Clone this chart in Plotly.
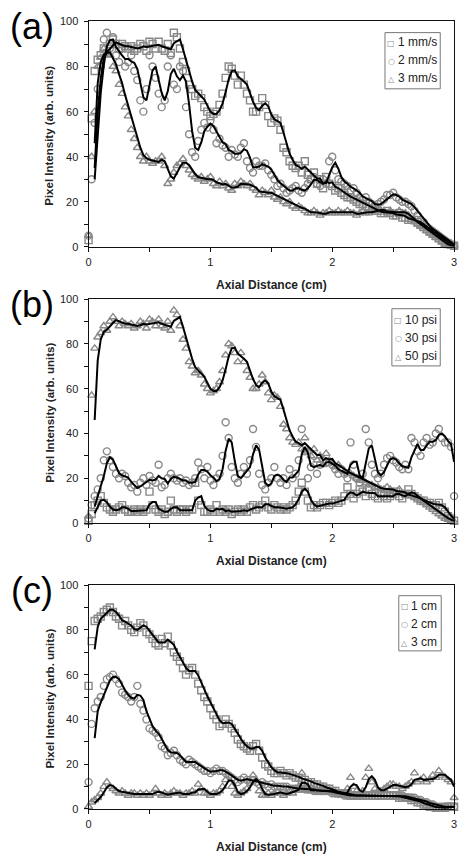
import numpy as np
import pandas as pd
import plotly.graph_objects as go

# sampling positions along the axis (cm)
X = np.round(np.arange(0, 3.0001, 0.025), 3)

# ---- panel (a): scan speed ----
a_1mm = [3, 57, 78, 83, 85, 88, 86, 90, 92, 90,
         88, 90, 89, 88, 89, 87, 88, 90, 89, 87,
         91, 90, 88, 91, 88, 87, 90, 86, 95, 93,
         88, 82, 78, 72, 70, 67, 68, 66, 62, 60,
         58, 59, 60, 63, 68, 75, 80, 79, 76, 72,
         76, 72, 68, 65, 60, 60, 62, 66, 63, 58,
         55, 57, 56, 52, 44, 42, 38, 36, 35, 36,
         33, 38, 32, 30, 33, 28, 30, 26, 31, 28,
         27, 25, 26, 24, 23, 22, 22, 21, 20, 19,
         19, 18, 17, 17, 16, 16, 15, 15, 16, 15,
         14, 14, 15, 13, 13, 12, 12, 12, 11, 10,
         9, 8, 7, 6, 5, 4, 3, 2, 1.5, 1,
         0.5]
a_2mm = [5, 30, 55, 70, 80, 92, 95, 88, 93, 85,
         82, 88, 80, 82, 85, 78, 74, 65, 60, 70,
         85, 80, 75, 68, 62, 65, 80, 85, 72, 70,
         80, 78, 62, 50, 42, 40, 47, 52, 55, 53,
         56, 52, 46, 48, 45, 44, 40, 43, 41, 40,
         44, 46, 38, 35, 33, 38, 36, 36, 37, 34,
         32, 30, 27, 28, 26, 24, 25, 26, 27, 25,
         24, 26, 28, 30, 31, 28, 27, 30, 28, 38,
         40, 34, 30, 29, 28, 27, 25, 26, 24, 22,
         21, 22, 20, 19, 18, 19, 20, 21, 23, 23,
         24, 22, 21, 20, 20, 19, 18, 16, 14, 12,
         11, 9, 8, 7, 6, 5, 4, 3, 2, 1,
         0.5]
a_3mm = [5, 40, 60, 80, 84, 88, 86, 85, 80, 78,
         72, 68, 62, 58, 52, 48, 44, 40, 38, 40,
         38, 37, 38, 38, 40, 36, 28, 30, 33, 36,
         37, 39, 36, 34, 32, 31, 30, 31, 29, 30,
         31, 28, 27, 29, 27, 28, 26, 25, 28, 27,
         29, 28, 27, 28, 26, 25, 23, 25, 24, 23,
         25, 22, 21, 22, 20, 19, 20, 18, 17, 18,
         17, 16, 15, 15, 16, 15, 14, 15, 15, 16,
         15, 15, 16, 15, 15, 16, 15, 15, 14, 15,
         16, 15, 15, 16, 16, 17, 16, 16, 15, 16,
         15, 15, 16, 15, 15, 14, 12, 11, 10, 9,
         8, 7, 6, 5, 4, 3, 2, 1, 0.5, 0.5,
         0.5]

# ---- panel (b): pressure ----
b_10psi = [1, 4, 8, 10, 12, 9, 7, 6, 5, 6,
           7, 8, 6, 5, 5, 6, 5, 6, 5, 6,
           14, 8, 6, 5, 6, 4, 5, 10, 6, 5,
           6, 6, 5, 6, 6, 18, 10, 8, 5, 5,
           6, 5, 8, 5, 6, 5, 6, 4, 5, 6,
           5, 6, 5, 7, 8, 6, 7, 8, 10, 7,
           6, 8, 7, 6, 7, 6, 7, 8, 10, 14,
           18, 14, 10, 7, 8, 7, 8, 9, 9, 8,
           9, 10, 9, 10, 12, 16, 13, 11, 13, 15,
           14, 12, 15, 13, 12, 11, 13, 12, 11, 12,
           13, 14, 12, 11, 13, 15, 13, 12, 11, 10,
           10, 9, 9, 8, 8, 9, 7, 5, 3, 2,
           1]
b_30psi = [2, 8, 12, 15, 20, 28, 32, 28, 25, 22,
           20, 22, 21, 18, 16, 17, 14, 18, 20, 17,
           21, 19, 18, 26, 16, 17, 20, 22, 20, 19,
           20, 18, 19, 17, 18, 20, 27, 24, 20, 25,
           19, 17, 20, 22, 30, 45, 38, 25, 20, 18,
           22, 25, 22, 28, 42, 34, 22, 17, 15, 18,
           20, 25, 20, 18, 20, 17, 24, 20, 22, 28,
           42, 32, 20, 25, 30, 22, 26, 28, 27, 27,
           26, 24, 22, 24, 22, 20, 36, 26, 20, 18,
           22, 42, 36, 26, 22, 20, 22, 26, 29, 30,
           28, 27, 25, 24, 26, 24, 38, 36, 32, 30,
           36, 38, 35, 36, 40, 42, 38, 36, 36, 34,
           12]
b_50psi = a_1mm

# ---- panel (c): distance ----
c_1cm = [55, 75, 84, 85, 86, 88, 89, 90, 88, 86,
         85, 82, 84, 82, 80, 79, 81, 83, 82, 79,
         78, 76, 74, 73, 76, 74, 77, 73, 70, 68,
         66, 63, 60, 62, 63, 60, 56, 53, 50, 48,
         45, 42, 40, 37, 38, 40, 38, 36, 34, 31,
         29, 28, 27, 26, 28, 29, 26, 23, 20, 19,
         17, 16, 16, 17, 16, 15, 16, 15, 14, 14,
         13, 13, 12, 12, 11, 11, 10, 10, 9, 9,
         8, 8, 7, 7, 7, 7, 6, 6, 6, 6,
         6, 6, 6, 6, 6, 6, 6, 6, 6, 6,
         6, 6, 5, 5, 5, 5, 4, 4, 3, 3,
         2, 2, 1, 1, 0.5, 0.5, 0.5, 0.5, 1, 1,
         1]
c_2cm = [12, 38, 45, 48, 50, 55, 58, 59, 60, 58,
         56, 52, 51, 50, 48, 50, 55, 47, 44, 40,
         36, 35, 34, 32, 28, 27, 24, 25, 26, 24,
         22, 21, 20, 22, 21, 20, 19, 18, 17, 17,
         16, 17, 18, 17, 17, 16, 15, 14, 13, 12,
         13, 14, 13, 12, 13, 12, 11, 12, 11, 10,
         11, 10, 10, 10, 10, 10, 9, 9, 9, 9,
         9, 9, 9, 9, 8, 8, 8, 8, 8, 8,
         7, 7, 7, 7, 6, 6, 6, 6, 6, 6,
         6, 6, 6, 6, 6, 6, 6, 6, 6, 6,
         6, 6, 6, 6, 5, 5, 5, 5, 4, 4,
         3, 3, 2, 2, 1, 1, 1, 1, 1, 1,
         1]
c_3cm = [1, 3, 4, 5, 7, 10, 12, 10, 9, 8,
         7, 8, 7, 6, 7, 7, 6, 7, 6, 7,
         6, 7, 9, 7, 6, 7, 6, 7, 8, 7,
         7, 6, 7, 7, 8, 7, 11, 9, 7, 7,
         6, 7, 7, 8, 10, 13, 15, 10, 7, 6,
         7, 8, 9, 12, 15, 13, 8, 6, 6, 7,
         6, 7, 8, 7, 6, 7, 8, 7, 9, 10,
         16, 9, 8, 8, 9, 8, 8, 9, 8, 8,
         8, 7, 7, 6, 7, 9, 14, 10, 8, 7,
         8, 14, 18, 12, 9, 8, 8, 9, 10, 11,
         11, 10, 10, 9, 10, 11, 12, 16, 12, 13,
         14, 12, 13, 15, 14, 17, 15, 14, 13, 12,
         5]

panel_labels = ["(a)", "(b)", "(c)"]
legend_names = [["1 mm/s", "2 mm/s", "3 mm/s"],
                ["10 psi", "30 psi", "50 psi"],
                ["1 cm", "2 cm", "3 cm"]]
panel_data = [[a_1mm, a_2mm, a_3mm],
              [b_10psi, b_30psi, b_50psi],
              [c_1cm, c_2cm, c_3cm]]
x_ticks = [0, 1, 2, 3]
y_ticks = [0, 20, 40, 60, 80, 100]

symbols = ["square-open", "circle-open", "triangle-up-open"]
glyphs = ["\u25a1", "\u25cb", "\u25b3"]
GRAY = "#888888"
W, H = 462, 862

# layout geometry (pixels)
plot_left, plot_right = 86.7, 457.0
panel_top = [15.7, 297.3, 587.3]
panel_bot = [244.3, 524.3, 814.3]
legend_box = [(387, 27, 443, 84), (394, 307, 443, 365), (401, 598, 444, 654)]
legend_rows = [(36.7, 55.0, 73.5), (318.3, 336.7, 355.0), (608.3, 626.7, 645.0)]
legend_mx = [393.5, 400.5, 407.0]

def px(x):
    return x / W

def py(y):
    return 1 - y / H

fig = go.Figure()
annotations = []
shapes = []
font_fam = "Liberation Sans, Arial, sans-serif"

for p in range(3):
    xa = "x" if p == 0 else f"x{p+1}"
    ya = "y" if p == 0 else f"y{p+1}"
    for s in range(3):
        yv = panel_data[p][s]
        fig.add_trace(go.Scatter(
            x=X, y=yv, mode="markers", xaxis=xa, yaxis=ya,
            marker=dict(symbol=symbols[s], size=7, color=GRAY,
                        line=dict(width=1.4, color=GRAY)),
            showlegend=False, hoverinfo="skip", cliponaxis=False))
    for s in range(3):
        yv = pd.Series(panel_data[p][s], dtype=float)
        ma = yv.rolling(3).mean()
        fig.add_trace(go.Scatter(
            x=X[2:], y=ma.values[2:], mode="lines", xaxis=xa, yaxis=ya,
            line=dict(color="black", width=2),
            showlegend=False, hoverinfo="skip"))

    ax_common = dict(showgrid=False, zeroline=False, showline=True,
                     linecolor="#111", linewidth=1, mirror=True,
                     ticks="outside", ticklen=4, tickcolor="#111",
                     ticklabeloverflow="allow",
                     tickfont=dict(family=font_fam, size=11, color="#222"))
    xkey = "xaxis" if p == 0 else f"xaxis{p+1}"
    ykey = "yaxis" if p == 0 else f"yaxis{p+1}"
    fig.update_layout(**{
        xkey: dict(ax_common, range=[0, 3], tickvals=x_ticks,
                   ticktext=[str(v) for v in x_ticks],
                   minor=dict(dtick=0.5, ticks="outside", ticklen=4, tickcolor="#111"),
                   domain=[px(plot_left), px(plot_right)],
                   anchor=ya, ticklabelstandoff=1),
        ykey: dict(ax_common, range=[0, 100], tickvals=y_ticks,
                   ticktext=[str(v) for v in y_ticks],
                   minor=dict(dtick=10, ticks="outside", ticklen=4, tickcolor="#111"),
                   domain=[py(panel_bot[p]), py(panel_top[p])],
                   anchor=xa, ticklabelstandoff=3),
    })

    # axis titles
    annotations.append(dict(text="<b>Axial Distance (cm)</b>", xref="paper", yref="paper",
                            x=px((plot_left + plot_right) / 2), y=py(panel_bot[p] + 38.5),
                            showarrow=False, xanchor="center", yanchor="middle",
                            font=dict(family=font_fam, size=12, color="#222")))
    annotations.append(dict(text="<b>Pixel Intensity (arb. units)</b>", xref="paper", yref="paper",
                            x=px(46.7), y=py((panel_top[p] + panel_bot[p]) / 2 + 1.5),
                            showarrow=False, textangle=-90, xanchor="center", yanchor="middle",
                            font=dict(family=font_fam, size=11.5, color="#222")))
    # panel letter
    annotations.append(dict(text=panel_labels[p], xref="paper", yref="paper",
                            x=px(29.5), y=py(panel_top[p] + 5.5),
                            showarrow=False, xanchor="center", yanchor="middle",
                            font=dict(family=font_fam, size=36, color="black")))
    # legend box
    x0, y0, x1, y1 = legend_box[p]
    shapes.append(dict(type="rect", xref="paper", yref="paper",
                       x0=px(x0), x1=px(x1), y0=py(y1), y1=py(y0),
                       line=dict(color="#777", width=1), fillcolor="white", layer="above"))
    for s in range(3):
        yy = legend_rows[p][s]
        annotations.append(dict(text=glyphs[s], xref="paper", yref="paper",
                                x=px(legend_mx[p]), y=py(yy + 1), showarrow=False,
                                xanchor="center", yanchor="middle",
                                font=dict(family="DejaVu Sans", size=8, color=GRAY)))
        annotations.append(dict(text=legend_names[p][s], xref="paper", yref="paper",
                                x=px(legend_mx[p] + 4.5), y=py(yy), showarrow=False,
                                xanchor="left", yanchor="middle",
                                font=dict(family=font_fam, size=12, color="#222")))

fig.update_layout(width=W, height=H, margin=dict(l=0, r=0, t=0, b=0),
                  paper_bgcolor="white", plot_bgcolor="white", showlegend=False,
                  annotations=annotations, shapes=shapes)

fig.write_html("out.html", config={"displayModeBar": False},
               post_script="document.body.style.margin='0';document.body.style.overflow='hidden';")
